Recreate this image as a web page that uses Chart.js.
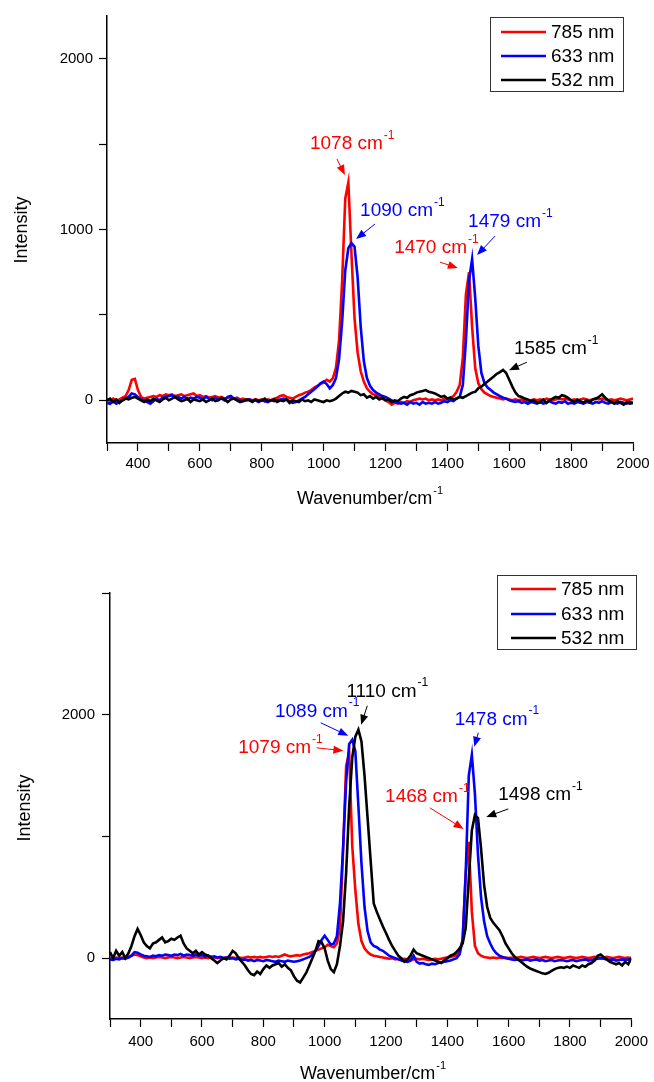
<!DOCTYPE html>
<html>
<head>
<meta charset="utf-8">
<script src="https://cdn.jsdelivr.net/npm/chart.js@4.4.0/dist/chart.umd.min.js"></script>
<style>
  html, body { margin: 0; padding: 0; background: #fff; }
  .panel { position: absolute; left: 0; width: 654px; height: 541px; }
  #top { top: 0; }
  #bottom { top: 541px; }
</style>
</head>
<body>
<div class="panel" id="top"><canvas id="chartTop"></canvas></div>
<div class="panel" id="bottom"><canvas id="chartBottom"></canvas></div>
<script>
// ---- Data ----
const wavenumbers = [
  300, 310, 320, 330, 340, 350, 360, 370, 380, 390,
  400, 410, 420, 430, 440, 450, 460, 470, 480, 490,
  500, 510, 520, 530, 540, 550, 560, 570, 580, 590,
  600, 610, 620, 630, 640, 650, 660, 670, 680, 690,
  700, 710, 720, 730, 740, 750, 760, 770, 780, 790,
  800, 810, 820, 830, 840, 850, 860, 870, 880, 890,
  900, 910, 920, 930, 940, 950, 960, 970, 980, 990,
  1000, 1010, 1020, 1030, 1040, 1050, 1060, 1070, 1080, 1090,
  1100, 1110, 1120, 1130, 1140, 1150, 1160, 1170, 1180, 1190,
  1200, 1210, 1220, 1230, 1240, 1250, 1260, 1270, 1280, 1290,
  1300, 1310, 1320, 1330, 1340, 1350, 1360, 1370, 1380, 1390,
  1400, 1410, 1420, 1430, 1440, 1450, 1460, 1470, 1480, 1490,
  1500, 1510, 1520, 1530, 1540, 1550, 1560, 1570, 1580, 1590,
  1600, 1610, 1620, 1630, 1640, 1650, 1660, 1670, 1680, 1690,
  1700, 1710, 1720, 1730, 1740, 1750, 1760, 1770, 1780, 1790,
  1800, 1810, 1820, 1830, 1840, 1850, 1860, 1870, 1880, 1890,
  1900, 1910, 1920, 1930, 1940, 1950, 1960, 1970, 1980, 1990,
  2000
];

const seriesLabels = ["785 nm", "633 nm", "532 nm"];
const seriesColors = ["#ff0000", "#0000ff", "#000000"];

// upper panel
const topRed785 = [
  5, -5, 10, 0, 5, 15, 25, 60, 120, 125,
  60, 20, 10, 15, 20, 25, 20, 30, 25, 35,
  30, 35, 25, 30, 35, 25, 30, 35, 40, 25,
  30, 20, 25, 15, 20, 25, 15, 20, 10, 15,
  20, 10, 15, 5, 10, 0, 5, 0, 5, 0,
  5, -5, 5, 0, 10, 15, 25, 30, 20, 15,
  10, 20, 30, 35, 45, 50, 60, 75, 85, 95,
  105, 120, 110, 130, 190, 350, 700, 1180, 1275, 860,
  480, 280, 170, 110, 70, 50, 35, 30, 20, 10,
  0, -10, -25, -15, -20, -10, -15, -5, -10, 0,
  5, 10, 5, 10, 0, 5, 0, 5, 0, 10,
  5, 15, 25, 50, 90, 250, 620, 750, 430, 190,
  100, 65, 45, 35, 25, 20, 15, 10, 5, 10,
  5, 0, 5, 0, 5, 0, -5, 0, 5, 0,
  5, 0, 10, 5, 0, 5, 10, 5, 10, 5,
  0, 5, 0, 5, 10, 5, 0, 5, 10, 5,
  10, 5, 0, 5, 0, 5, 10, 5, 0, 5,
  10
];
const topBlue633 = [
  -15, -20, -5, -20, -10, 0, 10, 20, 40, 35,
  20, 5, 0, -10, -20, -5, 10, 0, 15, 20,
  25, 30, 15, 20, 10, 20, 5, 15, 10, 20,
  15, 5, 20, 10, 0, 15, 5, 10, 0, 20,
  25, 10, 5, 0, -5, 0, 5, -5, 0, -10,
  0, -5, -10, 0, -5, 0, 5, 10, 5, -5,
  -15, -10, 0, 10, 20, 35, 50, 65, 80, 100,
  110, 95, 70, 90, 130, 240, 460, 760, 890, 920,
  900, 720, 430, 230, 130, 85, 60, 45, 35, 25,
  20, 10, 0, -10, -15, -20, -15, -25, -10, -20,
  -15, -25, -10, -20, -15, -20, -10, -20, -15, -5,
  -10, 0, -5, 10, 20, 90, 350, 700, 826, 600,
  320, 160, 100, 75, 60, 45, 35, 25, 15, 10,
  0, -5, -10, -5, -15, -10, -20, -10, -15, -20,
  -10, -20, -15, -5, -15, -20, -10, -15, -5, -20,
  -15, -20, -10, -15, -20, -10, -15, -20, -10, -15,
  -5, -15, -20, -10, -15, -20, -10, -15, -20, -10,
  -15
];
const topBlack532 = [
  0, 10, -10, 5, -15, 0, 10, 5, 15, 20,
  10, 0, -10, 5, -5, 10, 0, -10, 5, 15,
  0, 10, 20, 5, -5, 0, 10, -10, 5, 0,
  -5, 5, -10, 0, 10, -5, 0, 15, 5, -10,
  5, 10, 0, -10, -5, 5, 0, -10, 5, -5,
  0, 10, -5, 0, 5, -10, 0, -5, 5, -15,
  0, -5, -10, 5, -5, 0, -10, 5, 0, -5,
  -10, 0, -5, 0, 10, 25, 40, 50, 45, 55,
  50, 45, 30, 35, 15, 25, 10, 20, 5, 15,
  0, 5, -10, 0, -5, 10, 20, 15, 30, 35,
  45, 50, 55, 60, 50, 45, 40, 30, 20, 25,
  10, 15, 5, 10, 20, 15, 25, 35, 45, 50,
  70, 80, 95, 110, 125, 140, 155, 165, 178, 160,
  120, 80, 45, 25, 20, 10, 5, -5, 0, -15,
  -10, 5, -15, 0, 10, 20, 15, 30, 25, 15,
  0, -10, 5, -5, -15, 0, -10, 5, 10, 20,
  35, 15, 0, -10, -20, -5, -15, -25, -10, -20,
  -15
];

// lower panel
const botRed785 = [
  0, -5, 5, 0, 5, 0, 10, 20, 30, 25,
  15, 5, 0, 5, 0, 5, 10, 5, 0, 5,
  10, 5, 0, 5, 10, 5, 0, 5, 10, 5,
  0, 5, 0, 10, 5, 0, 5, 0, 5, 0,
  5, 0, 5, 0, 5, 10, 5, 10, 5, 10,
  5, 10, 15, 10, 15, 10, 20, 30, 20, 15,
  20, 25, 20, 30, 35, 40, 50, 60, 70, 80,
  90, 110, 100, 90, 120, 250, 880, 1580, 1687, 920,
  560, 280, 140, 80, 50, 30, 20, 15, 10, 5,
  0, -5, 0, -10, -5, -10, -5, -10, -15, -10,
  -5, -10, -5, -10, -15, -10, -5, -10, -5, 0,
  5, 10, 15, 25, 50, 150, 700, 955, 380, 100,
  40, 20, 10, 5, 0, 5, 0, 5, 0, 5,
  0, 5, 0, 5, 10, 5, 0, 5, 10, 5,
  0, 5, 10, 5, 0, 5, 10, 5, 0, 5,
  10, 5, 0, 5, 10, 5, 0, 5, 10, 5,
  0, 5, 10, 5, 0, 5, 10, 5, 0, 5,
  0
];
const botBlue633 = [
  -10, -15, -5, -10, 0, -5, 5, 20, 50, 45,
  30, 20, 15, 10, 20, 15, 25, 20, 30, 25,
  20, 30, 25, 35, 20, 30, 25, 20, 30, 20,
  25, 15, 20, 10, 15, 5, 10, 0, 5, -5,
  0, -10, -5, -15, -10, -20, -15, -25, -15, -20,
  -25, -15, -20, -25, -30, -20, -25, -30, -20, -25,
  -30, -25, -20, -10, 0, 10, 30, 60, 100, 150,
  185, 150, 110, 120, 180, 450, 900, 1450, 1760, 1794,
  1700, 1250, 780, 420, 220, 130, 100, 90, 70, 60,
  40, 20, 10, 0, -10, -20, -25, -30, -20, 20,
  -30, -45, -40, -50, -55, -45, -50, -40, -35, -30,
  -25, -20, -10, 0, 30, 150, 700, 1500, 1671, 1350,
  850, 500, 300, 180, 120, 70, 40, 20, 10, 0,
  -5, -10, -15, -10, -20, -15, -10, -20, -15, -10,
  -20, -15, -25, -20, -15, -25, -20, -15, -20, -25,
  -20, -15, -25, -20, -15, -10, -20, -15, -10, -5,
  0, -5, -10, -15, -10, -20, -15, -10, -15, -10,
  -15
];
const botBlack532 = [
  50, 0, 60, 20, 50, 0, 40, 100, 180, 240,
  190, 130, 100, 80, 120, 130, 150, 170, 130, 140,
  160, 150, 170, 185, 120, 80, 60, 40, 60, 30,
  50, 30, 20, 0, -20, -40, -20, 0, -10, 20,
  60, 40, 0, -30, -60, -100, -130, -140, -110, -130,
  -90, -60, -80, -60, -50, -40, -70, -50, -80, -100,
  -150, -185, -200, -160, -120, -60, 0, 60, 140, 130,
  80, -20, -90, -115, -50, 100, 300, 700, 1250, 1650,
  1820, 1877, 1780, 1500, 1150, 800, 450, 380, 320, 260,
  206, 150, 100, 60, 20, 0, -30, -10, 20, 70,
  40, 30, 20, 10, 0, -10, -20, -30, -40, -20,
  0, 20, 30, 50, 80, 120, 250, 650, 1050, 1177,
  1150, 900, 600, 420, 330, 290, 260, 230, 180, 120,
  80, 40, 10, -10, -30, -50, -70, -85, -95, -105,
  -115, -125, -130, -120, -105, -90, -80, -75, -80, -70,
  -80, -60, -70, -80, -60, -70, -50, -40, -20, 20,
  30, 10, -10, -30, -40, -50, -40, -60, -30, -50,
  0
];

// ---- Tick values ----
const xTickValues = [300, 400, 500, 600, 700, 800, 900, 1000, 1100, 1200,
  1300, 1400, 1500, 1600, 1700, 1800, 1900, 2000];
const xTickLabels = [400, 600, 800, 1000, 1200, 1400, 1600, 1800, 2000];
const yTicksTop = [0, 500, 1000, 1500, 2000];
const yLabelsTop = [0, 1000, 2000];
const yTicksBottom = [0, 1000, 2000, 3000];
const yLabelsBottom = [0, 2000];

// peak labels: text, series index, text anchor, arrow start, arrow end (data units)
const peaksTop = [
  { text: "1078 cm", s: 0, at: [956, 1500], from: [1043, 1413], to: [1069, 1319] },
  { text: "1090 cm", s: 1, at: [1118, 1108], from: [1166, 1032], to: [1105, 944] },
  { text: "1470 cm", s: 0, at: [1228, 891], from: [1376, 809], to: [1434, 774] },
  { text: "1479 cm", s: 1, at: [1467, 1043], from: [1554, 961], to: [1496, 850] },
  { text: "1585 cm", s: 2, at: [1615, 299], from: [1657, 223], to: [1599, 176] }
];
const peaksBottom = [
  { text: "1110 cm", s: 2, at: [1071, 2189], from: [1139, 2074], to: [1119, 1918] },
  { text: "1089 cm", s: 1, at: [838, 2025], from: [987, 1934], to: [1077, 1827] },
  { text: "1079 cm", s: 0, at: [718, 1728], from: [974, 1728], to: [1061, 1704] },
  { text: "1478 cm", s: 1, at: [1424, 1959], from: [1501, 1852], to: [1488, 1737] },
  { text: "1468 cm", s: 0, at: [1197, 1325], from: [1343, 1235], to: [1453, 1062] },
  { text: "1498 cm", s: 2, at: [1566, 1342], from: [1599, 1226], to: [1527, 1160] }
];

// ---- Drawing helpers ----
const FONT = '"Liberation Sans", Arial, sans-serif';
Chart.defaults.font.family = FONT;
Chart.defaults.color = "#000";

function textWithSup(ctx, x, y, text, sup, size, align) {
  const supSize = Math.round(size * 0.62);
  ctx.font = size + "px " + FONT;
  const w = ctx.measureText(text).width;
  ctx.font = supSize + "px " + FONT;
  const ws = ctx.measureText(sup).width;
  const x0 = align === "center" ? x - (w + ws + 1) / 2 : x;
  ctx.textAlign = "left";
  ctx.textBaseline = "middle";
  ctx.font = size + "px " + FONT;
  ctx.fillText(text, x0, y);
  ctx.font = supSize + "px " + FONT;
  ctx.fillText(sup, x0 + w + 1, y - size * 0.45);
}

function arrow(ctx, x1, y1, x2, y2) {
  const a = Math.atan2(y2 - y1, x2 - x1);
  const L = 10, W = 4;
  ctx.lineWidth = 1;
  ctx.beginPath();
  ctx.moveTo(x1, y1);
  ctx.lineTo(x2 - Math.cos(a) * L * 0.7, y2 - Math.sin(a) * L * 0.7);
  ctx.stroke();
  ctx.beginPath();
  ctx.moveTo(x2, y2);
  ctx.lineTo(x2 - L * Math.cos(a) + W * Math.sin(a), y2 - L * Math.sin(a) - W * Math.cos(a));
  ctx.lineTo(x2 - L * Math.cos(a) - W * Math.sin(a), y2 - L * Math.sin(a) + W * Math.cos(a));
  ctx.closePath();
  ctx.fill();
}

function decoPlugin(cfg) {
  return {
    id: "deco",
    afterDraw(chart) {
      const { ctx, scales: { x, y } } = chart;
      ctx.save();
      ctx.fillStyle = "#000";

      // axis titles
      ctx.save();
      ctx.translate(cfg.yTitle[0], cfg.yTitle[1]);
      ctx.rotate(-Math.PI / 2);
      ctx.font = "18px " + FONT;
      ctx.textAlign = "center";
      ctx.textBaseline = "middle";
      ctx.fillText("Intensity", 0, 0);
      ctx.restore();
      textWithSup(ctx, cfg.xTitle[0], cfg.xTitle[1], "Wavenumber/cm", "-1", 18, "center");

      // peak annotations
      cfg.peaks.forEach((p) => {
        const c = seriesColors[p.s];
        ctx.fillStyle = c;
        ctx.strokeStyle = c;
        textWithSup(ctx, x.getPixelForValue(p.at[0]), y.getPixelForValue(p.at[1]), p.text, "-1", 19, "left");
        arrow(ctx,
          x.getPixelForValue(p.from[0]), y.getPixelForValue(p.from[1]),
          x.getPixelForValue(p.to[0]), y.getPixelForValue(p.to[1]));
      });

      // legend box
      const L = cfg.legend;
      ctx.fillStyle = "#fff";
      ctx.fillRect(L.x, L.y, L.w, L.h);
      ctx.strokeStyle = "#333";
      ctx.lineWidth = 1;
      ctx.strokeRect(L.x + 0.5, L.y + 0.5, L.w, L.h);
      seriesLabels.forEach((lab, i) => {
        const ry = L.rows[i];
        ctx.strokeStyle = seriesColors[i];
        ctx.lineWidth = 2.5;
        ctx.beginPath();
        ctx.moveTo(L.line[0], ry);
        ctx.lineTo(L.line[1], ry);
        ctx.stroke();
        ctx.fillStyle = "#000";
        ctx.font = "19px " + FONT;
        ctx.textAlign = "left";
        ctx.textBaseline = "middle";
        ctx.fillText(lab, L.textX, ry + 1);
      });
      ctx.restore();
    }
  };
}

function makeChart(id, cfg) {
  const datasets = cfg.series.map((vals, i) => ({
    label: seriesLabels[i],
    data: wavenumbers.map((w, k) => ({ x: w, y: vals[k] })),
    borderColor: seriesColors[i],
    borderWidth: 2.6,
    pointRadius: 0,
    tension: 0,
    fill: false,
    order: 3 - i
  }));

  const axisCommon = {
    type: "linear",
    grid: {
      display: true,
      drawOnChartArea: false,
      drawTicks: true,
      tickLength: 8,
      tickColor: "#000",
      tickWidth: 1.2
    },
    border: { display: true, color: "#000", width: 1.5 }
  };

  return new Chart(document.getElementById(id), {
    type: "line",
    data: { datasets },
    options: {
      responsive: true,
      maintainAspectRatio: false,
      animation: false,
      layout: { padding: { top: cfg.padTop, right: cfg.padRight, left: 0, bottom: 0 } },
      plugins: { legend: { display: false }, tooltip: { enabled: false } },
      scales: {
        x: {
          ...axisCommon,
          min: 300,
          max: 2000,
          afterBuildTicks: (axis) => { axis.ticks = xTickValues.map((v) => ({ value: v })); },
          afterFit: (axis) => { axis.height = cfg.xHeight; },
          ticks: {
            autoSkip: false,
            maxRotation: 0,
            padding: cfg.xPad,
            font: { size: 15 },
            color: "#000",
            callback: (v) => (xTickLabels.includes(v) ? String(v) : "")
          }
        },
        y: {
          ...axisCommon,
          min: cfg.yMin,
          max: cfg.yMax,
          afterBuildTicks: (axis) => { axis.ticks = cfg.yTicks.map((v) => ({ value: v })); },
          afterFit: (axis) => { axis.width = cfg.yWidth; },
          ticks: {
            autoSkip: false,
            padding: cfg.yPad,
            font: { size: 15 },
            color: "#000",
            callback: (v) => (cfg.yLabels.includes(v) ? String(v) : "")
          }
        }
      }
    },
    plugins: [decoPlugin(cfg)]
  });
}

// ---- Build both panels ----
makeChart("chartTop", {
  series: [topRed785, topBlue633, topBlack532],
  yMin: -250, yMax: 2250,
  yTicks: yTicksTop, yLabels: yLabelsTop,
  padTop: 16, padRight: 21, yWidth: 107, xHeight: 98,
  xPad: 4, yPad: 6,
  yTitle: [22, 230], xTitle: [370, 499],
  peaks: peaksTop,
  legend: { x: 490, y: 17, w: 133, h: 74, rows: [32, 56, 80], line: [501, 546], textX: 551 }
});

makeChart("chartBottom", {
  series: [botRed785, botBlue633, botBlack532],
  yMin: -500, yMax: 3000,
  yTicks: yTicksBottom, yLabels: yLabelsBottom,
  padTop: 52, padRight: 18, yWidth: 110, xHeight: 63,
  xPad: 6, yPad: 7,
  yTitle: [25, 267], xTitle: [373, 533],
  peaks: peaksBottom,
  legend: { x: 497, y: 34, w: 139, h: 74, rows: [48, 73, 97], line: [511, 556], textX: 561 }
});
</script>
</body>
</html>
